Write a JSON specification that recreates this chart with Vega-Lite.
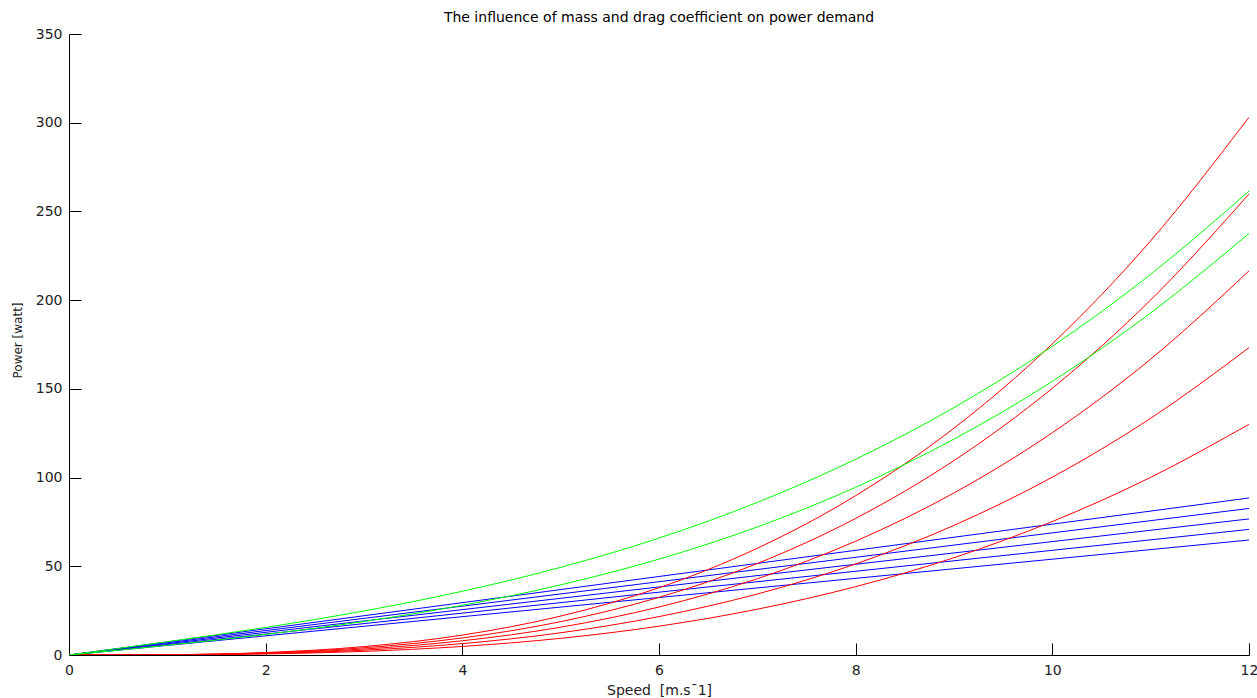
{
  "$schema": "https://vega.github.io/schema/vega-lite/v6.json",
  "width": 1180,
  "height": 621,
  "autosize": "none",
  "padding": {"left": 69, "top": 34, "right": 8, "bottom": 43},
  "background": "white",
  "title": {"text": "The influence of mass and drag coefficient on power demand", "font": "DejaVu Sans", "fontSize": 14, "fontWeight": "normal", "color": "#000000", "offset": 2, "anchor": "middle"},
  "config": {
    "view": {"stroke": null},
    "axis": {"grid": false, "domainColor": "#000000", "tickColor": "#000000", "labelColor": "#222222", "titleColor": "#222222", "labelFont": "DejaVu Sans", "titleFont": "DejaVu Sans", "labelFontSize": 14, "titleFontSize": 13, "titleFontWeight": "normal", "tickSize": -12, "domainWidth": 1, "tickWidth": 1, "labelFlush": false}
  },
  "datasets": {
    "curves": [
      {"series": "b1", "group": "blue", "speed": 0, "power": 0},
      {"series": "b1", "group": "blue", "speed": 12, "power": 88.5},
      {"series": "b2", "group": "blue", "speed": 0, "power": 0},
      {"series": "b2", "group": "blue", "speed": 12, "power": 82.6},
      {"series": "b3", "group": "blue", "speed": 0, "power": 0},
      {"series": "b3", "group": "blue", "speed": 12, "power": 76.7},
      {"series": "b4", "group": "blue", "speed": 0, "power": 0},
      {"series": "b4", "group": "blue", "speed": 12, "power": 70.8},
      {"series": "b5", "group": "blue", "speed": 0, "power": 0},
      {"series": "b5", "group": "blue", "speed": 12, "power": 64.8},

      {"series": "r3", "group": "red", "speed": 0, "power": 0},
      {"series": "r3", "group": "red", "speed": 1, "power": 0.08},
      {"series": "r3", "group": "red", "speed": 2, "power": 0.60},
      {"series": "r3", "group": "red", "speed": 3, "power": 2.03},
      {"series": "r3", "group": "red", "speed": 4, "power": 4.82},
      {"series": "r3", "group": "red", "speed": 5, "power": 9.40},
      {"series": "r3", "group": "red", "speed": 6, "power": 16.25},
      {"series": "r3", "group": "red", "speed": 7, "power": 25.81},
      {"series": "r3", "group": "red", "speed": 8, "power": 38.52},
      {"series": "r3", "group": "red", "speed": 9, "power": 54.84},
      {"series": "r3", "group": "red", "speed": 10, "power": 75.23},
      {"series": "r3", "group": "red", "speed": 11, "power": 100.13},
      {"series": "r3", "group": "red", "speed": 12, "power": 130.0},

      {"series": "r4", "group": "red", "speed": 0, "power": 0},
      {"series": "r4", "group": "red", "speed": 1, "power": 0.10},
      {"series": "r4", "group": "red", "speed": 2, "power": 0.80},
      {"series": "r4", "group": "red", "speed": 3, "power": 2.71},
      {"series": "r4", "group": "red", "speed": 4, "power": 6.42},
      {"series": "r4", "group": "red", "speed": 5, "power": 12.53},
      {"series": "r4", "group": "red", "speed": 6, "power": 21.65},
      {"series": "r4", "group": "red", "speed": 7, "power": 34.38},
      {"series": "r4", "group": "red", "speed": 8, "power": 51.32},
      {"series": "r4", "group": "red", "speed": 9, "power": 73.07},
      {"series": "r4", "group": "red", "speed": 10, "power": 100.23},
      {"series": "r4", "group": "red", "speed": 11, "power": 133.41},
      {"series": "r4", "group": "red", "speed": 12, "power": 173.2},

      {"series": "r5", "group": "red", "speed": 0, "power": 0},
      {"series": "r5", "group": "red", "speed": 1, "power": 0.13},
      {"series": "r5", "group": "red", "speed": 2, "power": 1.00},
      {"series": "r5", "group": "red", "speed": 3, "power": 3.38},
      {"series": "r5", "group": "red", "speed": 4, "power": 8.02},
      {"series": "r5", "group": "red", "speed": 5, "power": 15.66},
      {"series": "r5", "group": "red", "speed": 6, "power": 27.06},
      {"series": "r5", "group": "red", "speed": 7, "power": 42.98},
      {"series": "r5", "group": "red", "speed": 8, "power": 64.15},
      {"series": "r5", "group": "red", "speed": 9, "power": 91.34},
      {"series": "r5", "group": "red", "speed": 10, "power": 125.29},
      {"series": "r5", "group": "red", "speed": 11, "power": 166.76},
      {"series": "r5", "group": "red", "speed": 12, "power": 216.5},

      {"series": "r6", "group": "red", "speed": 0, "power": 0},
      {"series": "r6", "group": "red", "speed": 1, "power": 0.15},
      {"series": "r6", "group": "red", "speed": 2, "power": 1.20},
      {"series": "r6", "group": "red", "speed": 3, "power": 4.06},
      {"series": "r6", "group": "red", "speed": 4, "power": 9.62},
      {"series": "r6", "group": "red", "speed": 5, "power": 18.79},
      {"series": "r6", "group": "red", "speed": 6, "power": 32.48},
      {"series": "r6", "group": "red", "speed": 7, "power": 51.57},
      {"series": "r6", "group": "red", "speed": 8, "power": 76.98},
      {"series": "r6", "group": "red", "speed": 9, "power": 109.60},
      {"series": "r6", "group": "red", "speed": 10, "power": 150.35},
      {"series": "r6", "group": "red", "speed": 11, "power": 200.11},
      {"series": "r6", "group": "red", "speed": 12, "power": 259.8},

      {"series": "r7", "group": "red", "speed": 0, "power": 0},
      {"series": "r7", "group": "red", "speed": 1, "power": 0.18},
      {"series": "r7", "group": "red", "speed": 2, "power": 1.40},
      {"series": "r7", "group": "red", "speed": 3, "power": 4.74},
      {"series": "r7", "group": "red", "speed": 4, "power": 11.23},
      {"series": "r7", "group": "red", "speed": 5, "power": 21.93},
      {"series": "r7", "group": "red", "speed": 6, "power": 37.89},
      {"series": "r7", "group": "red", "speed": 7, "power": 60.17},
      {"series": "r7", "group": "red", "speed": 8, "power": 89.81},
      {"series": "r7", "group": "red", "speed": 9, "power": 127.87},
      {"series": "r7", "group": "red", "speed": 10, "power": 175.40},
      {"series": "r7", "group": "red", "speed": 11, "power": 233.46},
      {"series": "r7", "group": "red", "speed": 12, "power": 303.1},

      {"series": "g1", "group": "green", "speed": 0, "power": 0},
      {"series": "g1", "group": "green", "speed": 1, "power": 7.48},
      {"series": "g1", "group": "green", "speed": 2, "power": 15.55},
      {"series": "g1", "group": "green", "speed": 3, "power": 24.83},
      {"series": "g1", "group": "green", "speed": 4, "power": 35.92},
      {"series": "g1", "group": "green", "speed": 5, "power": 49.40},
      {"series": "g1", "group": "green", "speed": 6, "power": 65.90},
      {"series": "g1", "group": "green", "speed": 7, "power": 86.01},
      {"series": "g1", "group": "green", "speed": 8, "power": 110.32},
      {"series": "g1", "group": "green", "speed": 9, "power": 139.45},
      {"series": "g1", "group": "green", "speed": 10, "power": 173.98},
      {"series": "g1", "group": "green", "speed": 11, "power": 214.54},
      {"series": "g1", "group": "green", "speed": 12, "power": 261.5},

      {"series": "g2", "group": "green", "speed": 0, "power": 0},
      {"series": "g2", "group": "green", "speed": 1, "power": 5.50},
      {"series": "g2", "group": "green", "speed": 2, "power": 11.60},
      {"series": "g2", "group": "green", "speed": 3, "power": 18.91},
      {"series": "g2", "group": "green", "speed": 4, "power": 28.02},
      {"series": "g2", "group": "green", "speed": 5, "power": 39.53},
      {"series": "g2", "group": "green", "speed": 6, "power": 54.05},
      {"series": "g2", "group": "green", "speed": 7, "power": 72.18},
      {"series": "g2", "group": "green", "speed": 8, "power": 94.52},
      {"series": "g2", "group": "green", "speed": 9, "power": 121.67},
      {"series": "g2", "group": "green", "speed": 10, "power": 154.23},
      {"series": "g2", "group": "green", "speed": 11, "power": 192.81},
      {"series": "g2", "group": "green", "speed": 12, "power": 237.6}
    ]
  },
  "data": {"name": "curves"},
  "mark": {"type": "line", "strokeWidth": 1, "interpolate": "monotone", "clip": true},
  "encoding": {
    "x": {"field": "speed", "type": "quantitative", "scale": {"domain": [0, 12], "nice": false}, "axis": {"values": [0, 2, 4, 6, 8, 10, 12], "title": "Speed \u00a0[m.s¯1]", "titleFontSize": 14, "labelPadding": 20, "titlePadding": 6}},
    "y": {"field": "power", "type": "quantitative", "scale": {"domain": [0, 350], "nice": false}, "axis": {"values": [0, 50, 100, 150, 200, 250, 300, 350], "title": "Power [watt]", "titleFontSize": 12, "titleY": 306, "labelPadding": 19, "titlePadding": 11}},
    "color": {"field": "group", "type": "nominal", "scale": {"domain": ["blue", "red", "green"], "range": ["#0000ff", "#ff0000", "#00ff00"]}, "legend": null},
    "detail": {"field": "series", "type": "nominal"}
  }
}
